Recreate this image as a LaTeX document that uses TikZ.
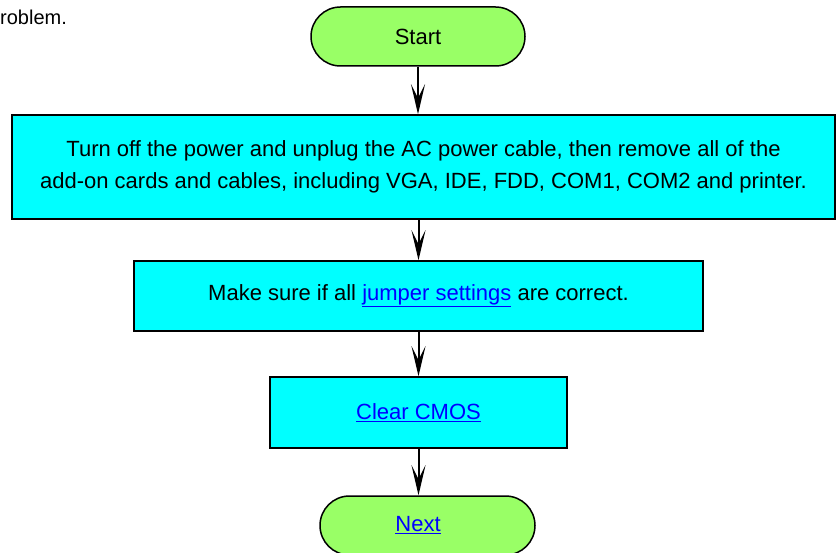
\documentclass[tikz,border=0pt]{standalone}
\usepackage{fontspec}
\setmainfont{Liberation Sans}
\usetikzlibrary{arrows.meta,positioning}
\definecolor{stepcyan}{HTML}{00FFFF}
\definecolor{endgreen}{HTML}{99FF66}
\definecolor{linkblue}{HTML}{0000FF}
\newcommand{\weblink}[1]{\textcolor{linkblue}{\underline{#1}}}

\begin{document}
\begin{tikzpicture}[x=1pt, y=-1pt, >={Stealth[length=30pt,width=14pt,inset=14pt]},
    every node/.style={font=\fontsize{22}{32}\selectfont},
    stepbox/.style={draw=black, line width=1.5pt, fill=stepcyan, inner sep=0pt, align=center},
    endbox/.style={draw=black, line width=1.5pt, fill=endgreen, rounded corners=29.5pt,
        inner sep=0pt, minimum width=214pt, minimum height=59pt},
    flow/.style={->, line width=2pt}]
    \useasboundingbox (0,0) rectangle (836,553);
    \clip (0,0) rectangle (836,553);

    \node[anchor=base west, inner sep=0pt, font=\fontsize{20}{24}\selectfont] (cut) at (0,25) {roblem.};

    \node[endbox] (start) at (418,36.5) {Start};
    \node[stepbox, minimum width=823pt, minimum height=104pt] (power) at (423.5,167)
        {Turn off the power and unplug the AC power cable, then remove all of the\\
         add-on cards and cables, including VGA, IDE, FDD, COM1, COM2 and printer.};
    \node[stepbox, minimum width=569pt, minimum height=70pt] (jumper) at (418.5,296)
        {Make sure if all \weblink{jumper settings} are correct.};
    \node[stepbox, minimum width=297pt, minimum height=71pt] (cmos) at (418.5,412.5)
        {\weblink{Clear CMOS}};
    \node[endbox, minimum width=215pt] (next) at (427.5,525.5) {};
    \node (nexttext) at (418,525.5) {\weblink{Next}};

    \draw[flow] (start.south) -- (start.south |- power.north);
    \draw[flow] (jumper.north |- power.south) -- (jumper.north);
    \draw[flow] (jumper) -- (cmos);
    \draw[flow] (cmos.south) -- (cmos.south |- next.north);
\end{tikzpicture}
\end{document}
